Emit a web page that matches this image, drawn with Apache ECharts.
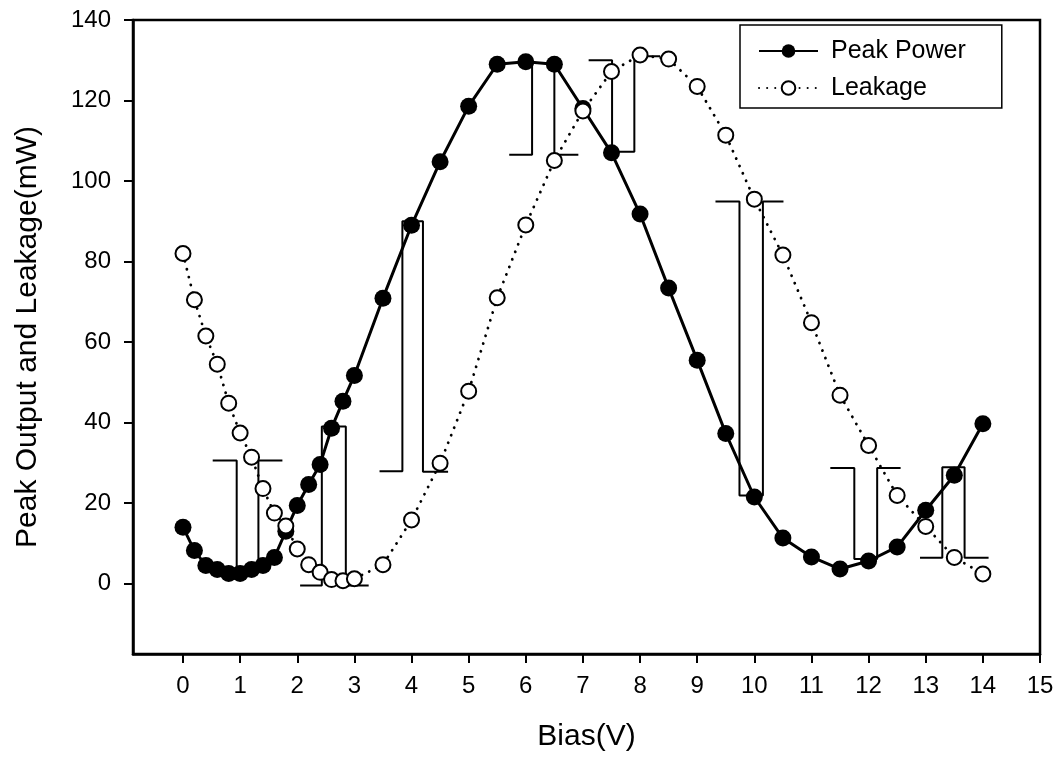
<!DOCTYPE html>
<html>
<head>
<meta charset="utf-8">
<script src="https://cdn.jsdelivr.net/npm/echarts@6/dist/echarts.min.js"></script>
<style>html,body{margin:0;padding:0;background:#fff}#c{width:1059px;height:764px}</style>
</head>
<body>
<div id="c"></div>
<script>
// ---- data ----
const bias = [0,0.2,0.4,0.6,0.8,1.0,1.2,1.4,1.6,1.8,2.0,2.2,2.4,2.6,2.8,3.0,3.5,4.0,4.5,5.0,5.5,6.0,6.5,7.0,7.5,8.0,8.5,9.0,9.5,10.0,10.5,11.0,11.5,12.0,12.5,13.0,13.5,14.0];
const peakPower = [14,8.2,4.5,3.5,2.5,2.5,3.5,4.5,6.5,13,19.4,24.6,29.6,38.6,45.3,51.7,70.9,89,104.8,118.6,129,129.6,129,118,107,91.8,73.4,55.5,37.3,21.5,11.3,6.6,3.6,5.6,9.1,18.2,26.9,39.7];
const leakage = [82,70.5,61.5,54.5,44.8,37.4,31.4,23.6,17.5,14.3,8.6,4.7,2.8,1.0,0.7,1.2,4.7,15.8,29.9,47.8,71,89.1,105.1,117.4,127.2,131.3,130.3,123.5,111.4,95.5,81.6,64.8,46.8,34.3,21.9,14.2,6.5,2.4];
const xTicks = [0,1,2,3,4,5,6,7,8,9,10,11,12,13,14,15];
const yTicks = [0,20,40,60,80,100,120,140];
// bracket marks (error-bar-like outlines) as [bias, value] vertices
const bracket1 = [[0.52,30.6],[0.94,30.6],[0.94,3],[1.32,3],[1.32,30.6],[1.74,30.6]];
const bracket2 = [[2.05,-0.5],[2.43,-0.5],[2.43,39],[2.85,39],[2.85,-0.5],[3.25,-0.5]];
const bracket3 = [[3.44,27.9],[3.84,27.9],[3.84,90],[4.2,90],[4.2,27.8],[4.64,27.8]];
const bracket4 = [[5.71,106.5],[6.11,106.5],[6.11,129.3],[6.5,129.3],[6.5,106.5],[6.92,106.5]];
const bracket5 = [[7.1,130],[7.51,130],[7.51,107.3],[7.9,107.3],[7.9,131],[8.35,131]];
const bracket6 = [[9.32,94.9],[9.74,94.9],[9.74,21.9],[10.15,21.9],[10.15,94.9],[10.51,94.9]];
const bracket7 = [[11.33,28.7],[11.75,28.7],[11.75,6.1],[12.15,6.1],[12.15,28.7],[12.56,28.7]];
const bracket8 = [[12.9,6.4],[13.29,6.4],[13.29,28.9],[13.68,28.9],[13.68,6.4],[14.1,6.4]];
const brackets = [bracket1,bracket2,bracket3,bracket4,bracket5,bracket6,bracket7,bracket8];

// ---- chart ----
const FONT = '"Liberation Sans", Arial, sans-serif';
const chart = echarts.init(document.getElementById('c'), null, {renderer:'canvas'});
const zip = (xs, ys) => xs.map((x,i)=>[x, ys[i]]);

const bracketSeries = brackets.map((b,i)=>({
  name: 'bracket'+i, type:'line', data: b, symbol:'none', silent:true, z:1,
  lineStyle:{color:'#000', width:2}, animation:false
}));

chart.setOption({
  animation:false,
  backgroundColor:'#fff',
  grid:{left:133, right:19, top:20, bottom:110, show:true, borderColor:'#000', borderWidth:2.5, backgroundColor:'transparent'},
  legend:{
    data:['Peak Power','Leakage'],
    orient:'vertical', left:740, top:25,
    padding:[12,36,6,18],
    itemWidth:59, itemHeight:17, itemGap:9,
    borderColor:'#000', borderWidth:1.5,
    textStyle:{fontFamily:FONT, fontSize:25, color:'#000', lineHeight:28, padding:[0,0,0,8]}
  },
  xAxis:{
    type:'value', min:-0.875, max:15,
    name:'Bias(V)', nameLocation:'middle', nameGap:68,
    nameTextStyle:{fontFamily:FONT, fontSize:30, color:'#000'},
    axisLine:{show:true, onZero:false, lineStyle:{color:'#000', width:2.5}},
    axisTick:{show:true, inside:false, length:9, customValues:xTicks, lineStyle:{color:'#000', width:2}},
    axisLabel:{customValues:xTicks, margin:20, fontFamily:FONT, fontSize:24, color:'#000'},
    splitLine:{show:false}
  },
  yAxis:{
    type:'value', min:-17.5, max:140,
    name:'Peak Output and Leakage(mW)', nameLocation:'middle', nameGap:90, nameRotate:90,
    nameTextStyle:{fontFamily:FONT, fontSize:30, color:'#000'},
    axisLine:{show:true, onZero:false, lineStyle:{color:'#000', width:2.5}},
    axisTick:{show:true, inside:false, length:9, customValues:yTicks, lineStyle:{color:'#000', width:2}},
    axisLabel:{customValues:yTicks, margin:22, fontFamily:FONT, fontSize:24, color:'#000'},
    splitLine:{show:false}
  },
  series: bracketSeries.concat([
    {
      name:'Peak Power', type:'line', data: zip(bias, peakPower), z:3,
      symbol:'circle', symbolSize:17,
      itemStyle:{color:'#000'},
      lineStyle:{color:'#000', width:3}
    },
    {
      name:'Leakage', type:'line', data: zip(bias, leakage), z:4,
      symbol:'emptyCircle', symbolSize:15,
      itemStyle:{color:'#000', borderWidth:2.2},
      lineStyle:{color:'#000', width:2.8, type:[0.1,8], cap:'round'}
    }
  ])
});
</script>
</body>
</html>
